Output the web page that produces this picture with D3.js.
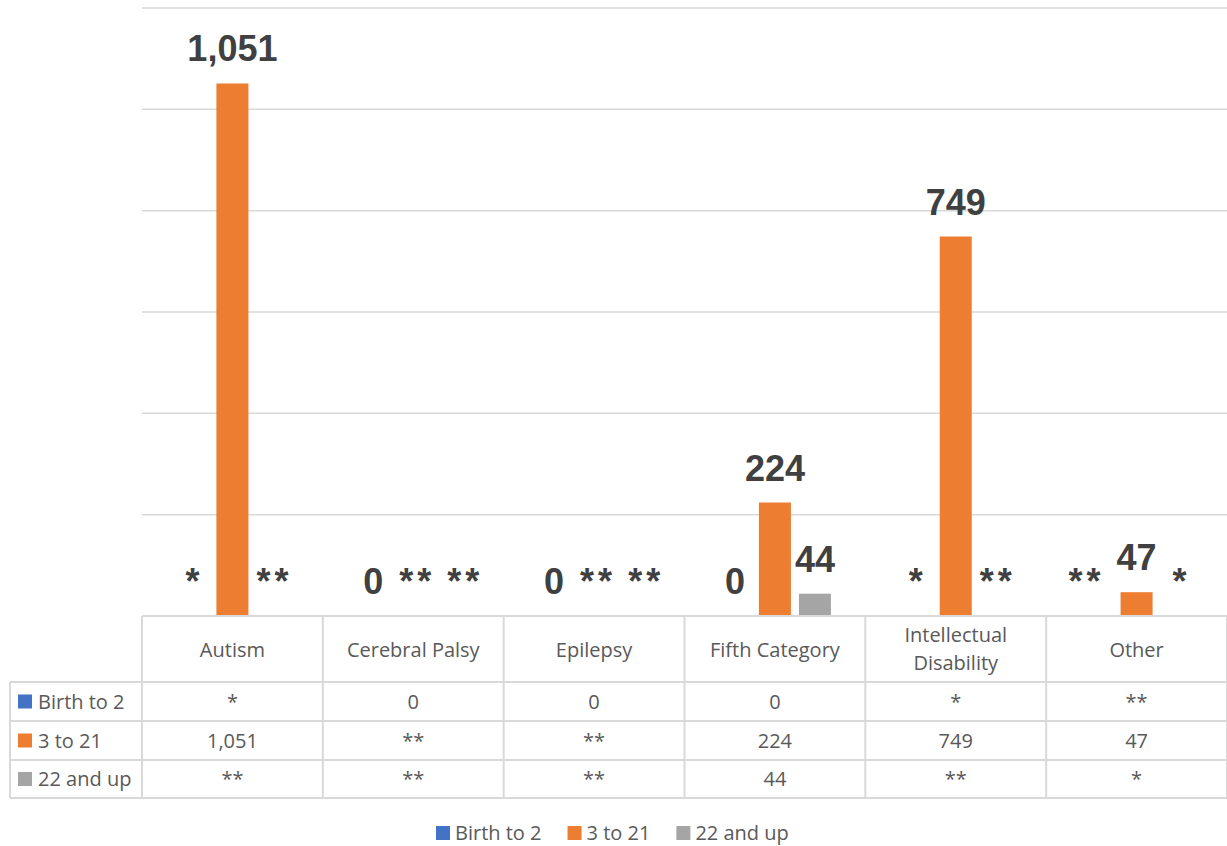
<!DOCTYPE html>
<html>
<head>
<meta charset="utf-8">
<script src="https://cdn.jsdelivr.net/npm/d3@7"></script>
<style>
  body { margin: 0; background: #fff; }
  svg text { font-family: "Open Sans", "Liberation Sans", sans-serif; }
</style>
</head>
<body>
<svg id="chart"></svg>
<script>
// data, suppressed cells kept as their marker text
var categories = ["Autism", "Cerebral Palsy", "Epilepsy", "Fifth Category", "Intellectual Disability", "Other"]
var seriesNames = ["Birth to 2", "3 to 21", "22 and up"]
var birthTo2 = ["*", 0, 0, 0, "*", "**"]
var threeTo21 = [1051, "**", "**", 224, 749, 47]
var twentyTwoUp = ["**", "**", "**", 44, "**", "*"]
var colors = ["#4472C4", "#ED7D31", "#A5A5A5"]
var yTicks = [0, 200, 400, 600, 800, 1000, 1200]

var series = [birthTo2, threeTo21, twentyTwoUp]
var fmt = d3.format(",")
function num(v) { return typeof v === "number" ? v : 0 }
function txt(v) { return typeof v === "number" ? fmt(v) : v }

var W = 1227, H = 846
var plotLeft = 142, plotRight = 1227, plotTop = 8, base = 616
var svg = d3.select("#chart").attr("width", W).attr("height", H)

var x = d3.scaleBand().domain(categories).range([plotLeft, plotRight])
var y = d3.scaleLinear().domain([0, 1200]).range([base, plotTop])
var barW = 32, step = 40

// gridlines
svg.selectAll(".grid").data(yTicks).enter()
  .append("line")
  .attr("x1", plotLeft).attr("x2", plotRight)
  .attr("y1", function(d){ return y(d) }).attr("y2", function(d){ return y(d) })
  .attr("stroke", "#d9d9d9").attr("stroke-width", 1.5)

// bars
series.forEach(function(s, si) {
  var off = (si - 1) * step
  svg.selectAll(".bar" + si).data(s).enter()
    .append("rect")
    .attr("x", function(d, i){ return x(categories[i]) + x.bandwidth()/2 + off - barW/2 })
    .attr("y", function(d){ return y(num(d)) })
    .attr("width", barW)
    .attr("height", function(d){ return base - y(num(d)) })
    .attr("fill", colors[si])
})

// data labels, nudged apart when they sit on the same line and collide
var ls = 4
var labelLayer = svg.append("g")
categories.forEach(function(c, i) {
  var labs = series.map(function(s, si) {
    var v = s[i]
    var star = typeof v !== "number"
    var ly = y(num(v)) - 22
    var t = labelLayer.append("text")
      .attr("y", ly)
      .attr("text-anchor", "middle")
      .style("font-family", "'Liberation Sans', Arial, sans-serif")
      .style("font-size", "36px")
      .style("font-weight", "bold")
      .style("letter-spacing", star ? ls + "px" : null)
      .attr("fill", "#404040")
      .text(txt(v))
    var w = t.node().getComputedTextLength() - (star ? ls : 0)
    return { t: t, y: ly, cx: x(c) + x.bandwidth()/2 + (si - 1) * step, w: w, star: star, fixed: num(v) > 0 }
  })
  var gap = 16
  for (var k = 1; k < labs.length; k++) {
    for (var j = 0; j < k; j++) {
      var a = labs[j], b = labs[k]
      if (Math.abs(a.y - b.y) > 30) continue
      var need = a.w/2 + b.w/2 + gap - (b.cx - a.cx)
      if (need > 0) {
        if (b.fixed && !a.fixed) a.cx -= need
        else b.cx += need
      }
    }
  }
  labs.forEach(function(l) { l.t.attr("x", l.cx + (l.star ? ls/2 : 0)) })
})

// data table
var rowY = [base, 682, 721, 760, 798]
var tableColor = "#d9d9d9"
var g = svg.append("g").attr("stroke", tableColor).attr("stroke-width", 2).attr("fill", "none")
var bounds = categories.map(function(c){ return x(c) }).concat([plotRight])
bounds.forEach(function(bx) {
  g.append("line").attr("x1", bx).attr("x2", bx).attr("y1", base).attr("y2", rowY[4])
})
g.append("line").attr("x1", 10).attr("x2", 10).attr("y1", rowY[1]).attr("y2", rowY[4])
rowY.forEach(function(ry, i) {
  g.append("line").attr("x1", i === 0 ? plotLeft : 10).attr("x2", plotRight).attr("y1", ry).attr("y2", ry)
})

// header
categories.forEach(function(c) {
  var cx = x(c) + x.bandwidth()/2
  var words = c === "Intellectual Disability" ? ["Intellectual", "Disability"] : [c]
  var t = svg.append("text").attr("x", cx).attr("text-anchor", "middle")
    .style("font-size", "20px").attr("fill", "#595959")
  words.forEach(function(w, wi) {
    var cy = words.length === 1 ? 657 : 642 + wi * 28
    t.append("tspan").attr("x", cx).attr("y", cy).text(w)
  })
})

// rows
series.forEach(function(s, si) {
  var cy = (rowY[si + 1] + rowY[si + 2]) / 2 + 7
  svg.append("rect").attr("x", 18).attr("y", cy - 14).attr("width", 14).attr("height", 14).attr("fill", colors[si])
  svg.append("text").attr("x", 38).attr("y", cy).style("font-size", "20px").attr("fill", "#595959").text(seriesNames[si])
  s.forEach(function(v, i) {
    svg.append("text")
      .attr("x", x(categories[i]) + x.bandwidth()/2).attr("y", cy)
      .attr("text-anchor", "middle").style("font-size", "20px").attr("fill", "#595959")
      .text(txt(v))
  })
})

// legend
var legend = svg.append("g")
var lx = 436
seriesNames.forEach(function(n, i) {
  legend.append("rect").attr("x", lx).attr("y", 826).attr("width", 14).attr("height", 14).attr("fill", colors[i])
  var t = legend.append("text").attr("x", lx + 19).attr("y", 840)
    .style("font-size", "20px").attr("fill", "#595959").text(n)
  lx += 19 + t.node().getComputedTextLength() + 26
})
</script>
</body>
</html>
